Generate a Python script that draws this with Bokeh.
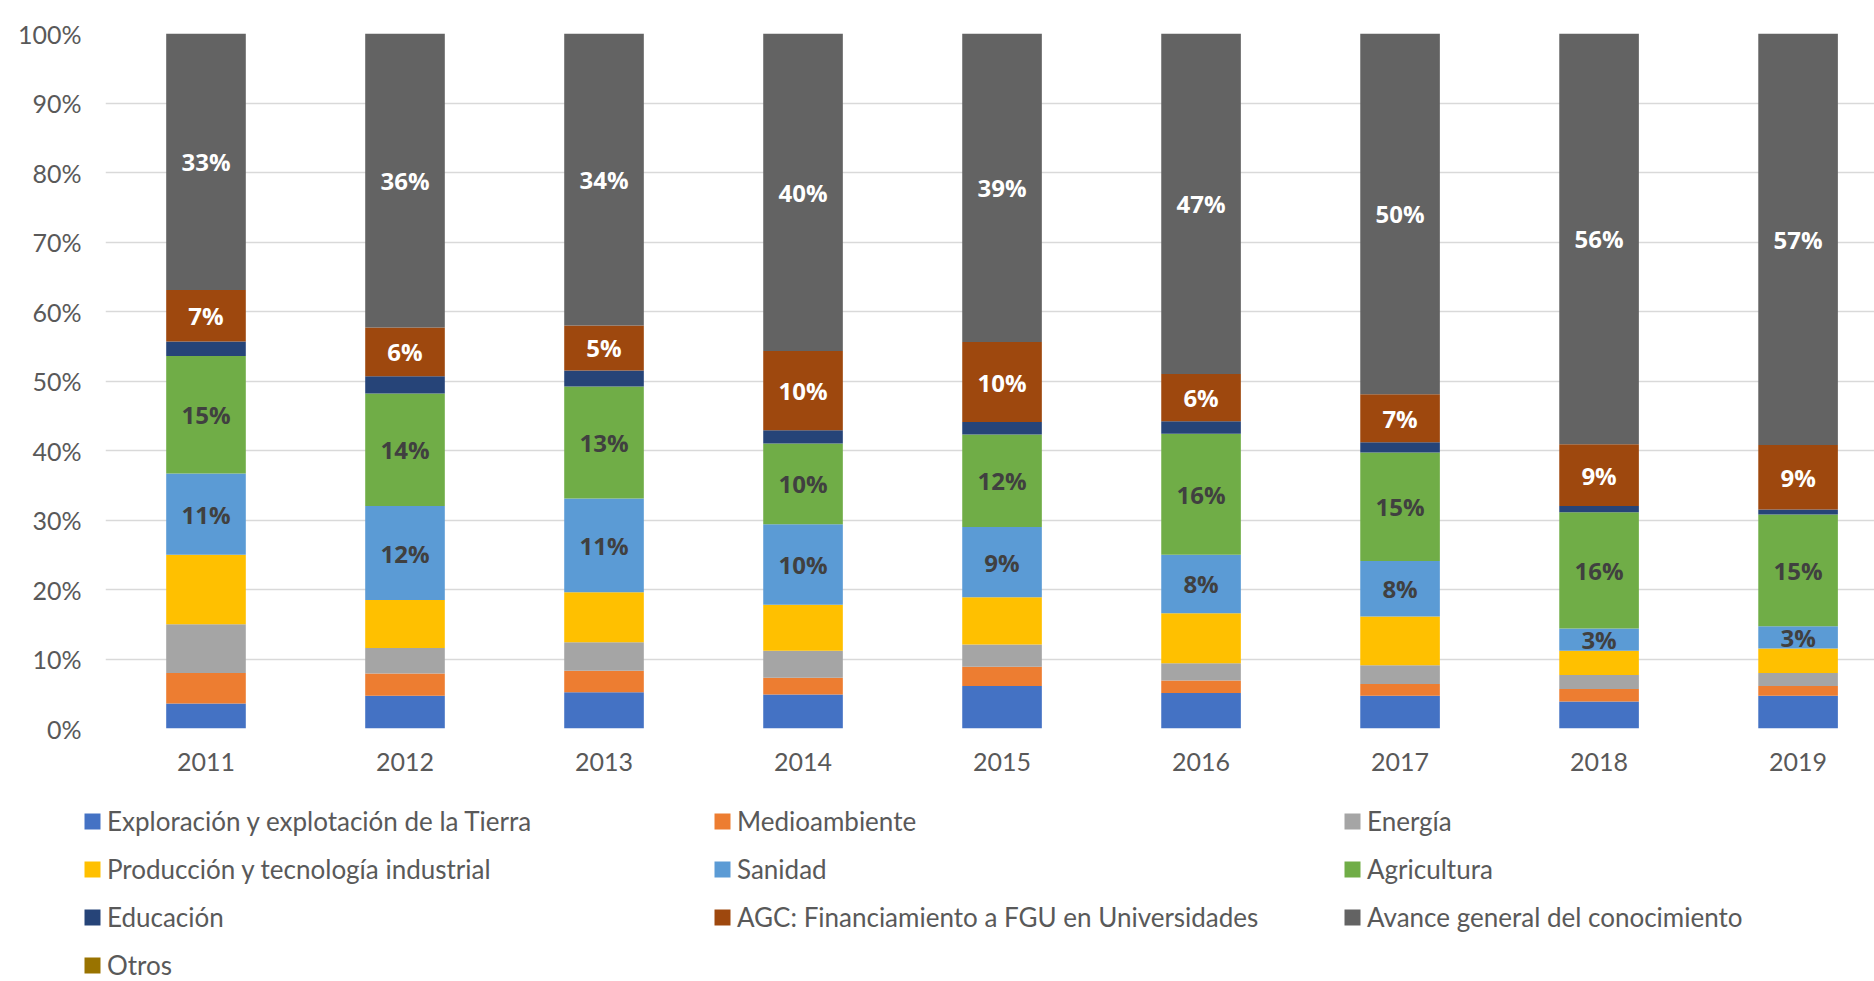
from bokeh.plotting import figure
from bokeh.layouts import column
from bokeh.models import ColumnDataSource, LabelSet, Legend, LegendItem, FixedTicker, Range1d
from bokeh.core.properties import value
from bokeh.embed import file_html
from bokeh.resources import INLINE

years = [2011, 2012, 2013, 2014, 2015, 2016, 2017, 2018, 2019]
year_labels = ["2011", "2012", "2013", "2014", "2015", "2016", "2017", "2018", "2019"]
y_ticks = [0, 10, 20, 30, 40, 50, 60, 70, 80, 90, 100]
y_tick_labels = ["0%", "10%", "20%", "30%", "40%", "50%", "60%", "70%", "80%", "90%", "100%"]

series_names = [
    "Exploración y explotación de la Tierra",
    "Medioambiente",
    "Energía",
    "Producción y tecnología industrial",
    "Sanidad",
    "Agricultura",
    "Educación",
    "AGC: Financiamiento a FGU en Universidades",
    "Avance general del conocimiento",
    "Otros",
]
series_colors = ["#4472C4", "#ED7D31", "#A5A5A5", "#FFC000", "#5B9BD5",
                 "#70AD47", "#264478", "#9E480E", "#636363", "#997300"]

# stacked shares (percent of bar height)
exploracion = [3.6, 4.7, 5.2, 4.9, 6.1, 5.1, 4.7, 3.9, 4.7]
medioambiente = [4.4, 3.2, 3.1, 2.4, 2.8, 1.8, 1.7, 1.8, 1.4]
energia = [7.0, 3.7, 4.1, 3.9, 3.2, 2.5, 2.7, 2.0, 1.9]
produccion = [10.0, 6.9, 7.2, 6.6, 6.8, 7.2, 7.0, 3.5, 3.5]
sanidad = [11.7, 13.5, 13.5, 11.6, 10.1, 8.4, 8.0, 3.2, 3.2]
agricultura = [16.9, 16.2, 16.1, 11.6, 13.3, 17.4, 15.6, 16.7, 16.1]
educacion = [2.1, 2.5, 2.3, 1.9, 1.8, 1.8, 1.5, 0.9, 0.7]
agc = [7.4, 7.0, 6.5, 11.4, 11.5, 6.8, 6.9, 8.9, 9.3]
avance = [36.9, 42.3, 42.0, 45.7, 44.4, 49.0, 51.9, 59.1, 59.2]
otros = [0, 0, 0, 0, 0, 0, 0, 0, 0]

# data labels as shown
lab_sanidad = ["11%", "12%", "11%", "10%", "9%", "8%", "8%", "3%", "3%"]
lab_agricultura = ["15%", "14%", "13%", "10%", "12%", "16%", "15%", "16%", "15%"]
lab_agc = ["7%", "6%", "5%", "10%", "10%", "6%", "7%", "9%", "9%"]
lab_avance = ["33%", "36%", "34%", "40%", "39%", "47%", "50%", "56%", "57%"]

values = [exploracion, medioambiente, energia, produccion, sanidad,
          agricultura, educacion, agc, avance, otros]
keys = ["s%d" % i for i in range(len(values))]

data = {"year": years}
for k, v in zip(keys, values):
    data[k] = v
source = ColumnDataSource(data)

FONT = "Lato"
LABEL_FONT = "Open Sans"
TXT = "#595959"

W = 1874
H_CHART = 790
H_LEG = 191

p = figure(width=W, height=H_CHART, output_backend="svg", toolbar_location=None,
           x_range=Range1d(2010.495, 2019.384), y_range=Range1d(0, 100),
           min_border_left=105, min_border_right=0, min_border_top=33,
           min_border_bottom=62)
p.outline_line_color = None
p.background_fill_color = "white"
p.border_fill_color = "white"
p.frame_align = False

renderers = p.vbar_stack(keys, x="year", width=0.4, source=source,
                         color=series_colors, line_color=None)

# axes
p.xaxis.ticker = FixedTicker(ticks=years)
p.xaxis.major_label_overrides = {y: l for y, l in zip(years, year_labels)}
p.yaxis.ticker = FixedTicker(ticks=y_ticks)
p.yaxis.major_label_overrides = {t: l for t, l in zip(y_ticks, y_tick_labels)}
for ax in (p.xaxis, p.yaxis):
    ax.axis_line_color = None
    ax.major_tick_line_color = None
    ax.minor_tick_line_color = None
    ax.major_tick_out = 0
    ax.major_tick_in = 0
    ax.major_label_text_font = FONT
    ax.major_label_text_font_size = "25px"
    ax.major_label_text_color = TXT
p.xaxis.major_label_standoff = 24
p.yaxis.major_label_standoff = 24

p.xgrid.grid_line_color = None
p.ygrid.ticker = FixedTicker(ticks=y_ticks)
p.ygrid.grid_line_color = "#D9D9D9"
p.ygrid.grid_line_width = 1.3

# data labels
def cum_below(idx):
    return [sum(values[j][i] for j in range(idx)) for i in range(len(years))]

def add_labels(idx, texts, color):
    base = cum_below(idx)
    ys = [b + h / 2.0 for b, h in zip(base, values[idx])]
    src = ColumnDataSource({"x": years, "y": ys, "t": texts})
    ls = LabelSet(x="x", y="y", text="t", source=src, text_align="center",
                  text_baseline="middle", text_font=value(LABEL_FONT),
                  text_font_style="bold", text_font_size="24px",
                  text_color=color)
    p.add_layout(ls)

add_labels(4, lab_sanidad, "#404040")
add_labels(5, lab_agricultura, "#404040")
add_labels(7, lab_agc, "#FFFFFF")
add_labels(8, lab_avance, "#FFFFFF")

# legend strip (separate figure below the chart)
pl = figure(width=W, height=H_LEG, output_backend="svg", toolbar_location=None,
            x_range=Range1d(0, W), y_range=Range1d(0, H_LEG),
            min_border=0, min_border_left=0, min_border_right=0,
            min_border_top=0, min_border_bottom=0)
pl.axis.visible = False
pl.grid.visible = False
pl.outline_line_color = None
pl.background_fill_color = "white"
pl.border_fill_color = "white"
pl.frame_align = False

# legend proxies share the chart data (they fall outside this strip's range)
leg_renderers = [pl.vbar(x="year", top=k, width=0.4, source=source, color=c,
                         line_color=None)
                 for k, c in zip(keys, series_colors)]
items = [LegendItem(label=n, renderers=[r]) for n, r in zip(series_names, leg_renderers)]
legend = Legend(items=items, orientation="horizontal", ncols=3,
                location=(82, 0),
                glyph_width=20, glyph_height=20, label_standoff=5,
                label_width=589, label_height=31, spacing=16, padding=0, margin=0,
                border_line_color=None, background_fill_alpha=0,
                label_text_font=FONT, label_text_font_size="26px",
                label_text_color=TXT)
pl.add_layout(legend, "center")

layout = column(p, pl, spacing=0)
open("out.html", "w").write(file_html(layout, INLINE))
